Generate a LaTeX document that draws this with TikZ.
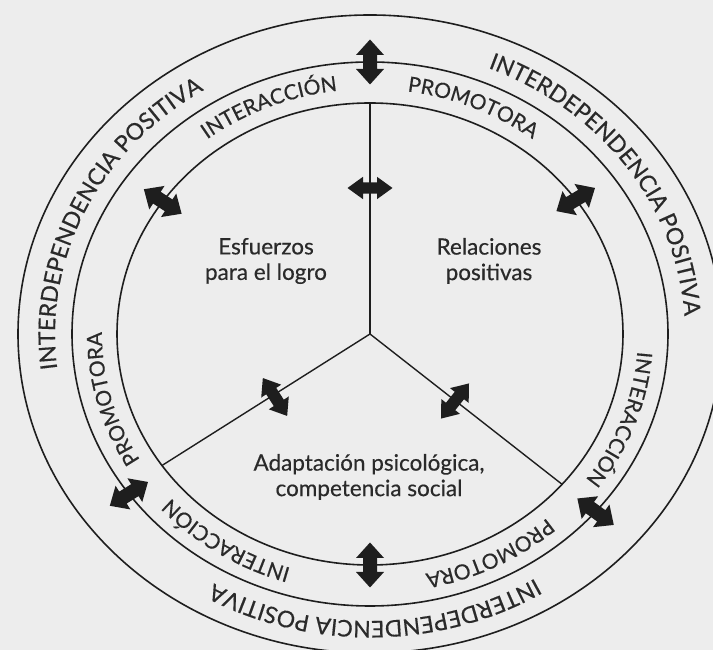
\documentclass[tikz,border=0pt]{standalone}
\usepackage{fontspec}
\setmainfont{Lato}[FakeBold=0.4]
\usetikzlibrary{calc,decorations.text}
\definecolor{ink}{HTML}{1E1E1E}
\definecolor{textink}{HTML}{2A2A2A}
\definecolor{paper}{HTML}{EDEDED}
\newcommand\outerfont{\fontsize{23}{23}\selectfont}
\newcommand\innerfont{\fontsize{21}{21}\selectfont}

\begin{document}
\begin{tikzpicture}[x=1pt,y=1pt,
  ring/.style={line width=1.6pt, draw=ink},
  spoke/.style={line width=1.4pt, draw=ink},
  label/.style={align=center, text=textink, font=\fontsize{22.5}{25.5}\selectfont},
  dblarrow/.pic={
    \fill[ink] (22.5,0) -- (7,14) -- (7,7) -- (-7,7) -- (-7,14) -- (-22.5,0)
      -- (-7,-14) -- (-7,-7) -- (7,-7) -- (7,-14) -- cycle;
  },
  ringlabel/.style={decorate, decoration={text along path, text align=center, text color=textink, text={#1}}},
]
\fill[paper] (0,0) rectangle (713,650);
\useasboundingbox (0,0) rectangle (713,650);
\clip (0,0) rectangle (713,650);

\coordinate (C) at (370,316);

% three concentric rings
\draw[ring] (C) ellipse[x radius=253, y radius=231];
\draw[ring] (C) ellipse[x radius=298, y radius=272];
\draw[ring] (C) ellipse[x radius=352, y radius=319];

% spokes dividing the inner disc
\coordinate (s1) at ($(C)+(90:253 and 231)$);
\coordinate (s2) at ($(C)+(214.7:253 and 231)$);
\coordinate (s3) at ($(C)+(-40.6:253 and 231)$);
\draw[spoke] (C) -- (s1);
\draw[spoke] (C) -- (s2);
\draw[spoke] (C) -- (s3);

% outer ring labels
\path[ringlabel={|\outerfont|INTERDEPENDENCIA POSITIVA}]
  ($(C)+(205:315 and 287)$) arc[start angle=205, end angle=105, x radius=315, y radius=287];
\path[ringlabel={|\outerfont|INTERDEPENDENCIA POSITIVA}]
  ($(C)+(85:315 and 287)$) arc[start angle=85, end angle=-15, x radius=315, y radius=287];
\path[ringlabel={|\outerfont|INTERDEPENDENCIA POSITIVA}]
  ($(C)+(321:315 and 287)$) arc[start angle=321, end angle=221, x radius=315, y radius=287];

% middle ring labels
\path[ringlabel={|\innerfont|INTERACCIÓN}]
  ($(C)+(142.5:268 and 245)$) arc[start angle=142.5, end angle=82.5, x radius=268, y radius=245];
\path[ringlabel={|\innerfont|PROMOTORA}]
  ($(C)+(97:268 and 245)$) arc[start angle=97, end angle=37, x radius=268, y radius=245];
\path[ringlabel={|\innerfont|INTERACCIÓN}]
  ($(C)+(10:268 and 245)$) arc[start angle=10, end angle=-50, x radius=268, y radius=245];
\path[ringlabel={|\innerfont|PROMOTORA}]
  ($(C)+(-33:268 and 245)$) arc[start angle=-33, end angle=-93, x radius=268, y radius=245];
\path[ringlabel={|\innerfont|INTERACCIÓN}]
  ($(C)+(267:268 and 245)$) arc[start angle=267, end angle=207, x radius=268, y radius=245];
\path[ringlabel={|\innerfont|PROMOTORA}]
  ($(C)+(225:268 and 245)$) arc[start angle=225, end angle=165, x radius=268, y radius=245];

% arrows across the rings
\pic[rotate=90] at ($(C)+(90:298 and 272)$) {dblarrow};
\pic[rotate=147] at ($(C)+(145:253 and 231)$) {dblarrow};
\pic[rotate=31] at ($(C)+(35.6:253 and 231)$) {dblarrow};
\pic[rotate=212] at ($(C)+(216:298 and 272)$) {dblarrow};
\pic[rotate=-36] at ($(C)+(-40.8:298 and 272)$) {dblarrow};
\pic[rotate=90] at ($(C)+(270:253 and 231)$) {dblarrow};

% arrows across the spokes
\pic[yscale=0.8] at (370,462) {dblarrow};
\pic[rotate=122.7, yscale=0.85] at (275,253) {dblarrow};
\pic[rotate=51.5, yscale=0.85] at (455,249) {dblarrow};

% sector labels
\node[label] (logro) at (266,389) {Esfuerzos\\para el logro};
\node[label] (relac) at (489,389) {Relaciones\\positivas};
\node[label] (adapt) at (369,173) {Adaptación psicológica,\\competencia social};
\end{tikzpicture}
\end{document}
